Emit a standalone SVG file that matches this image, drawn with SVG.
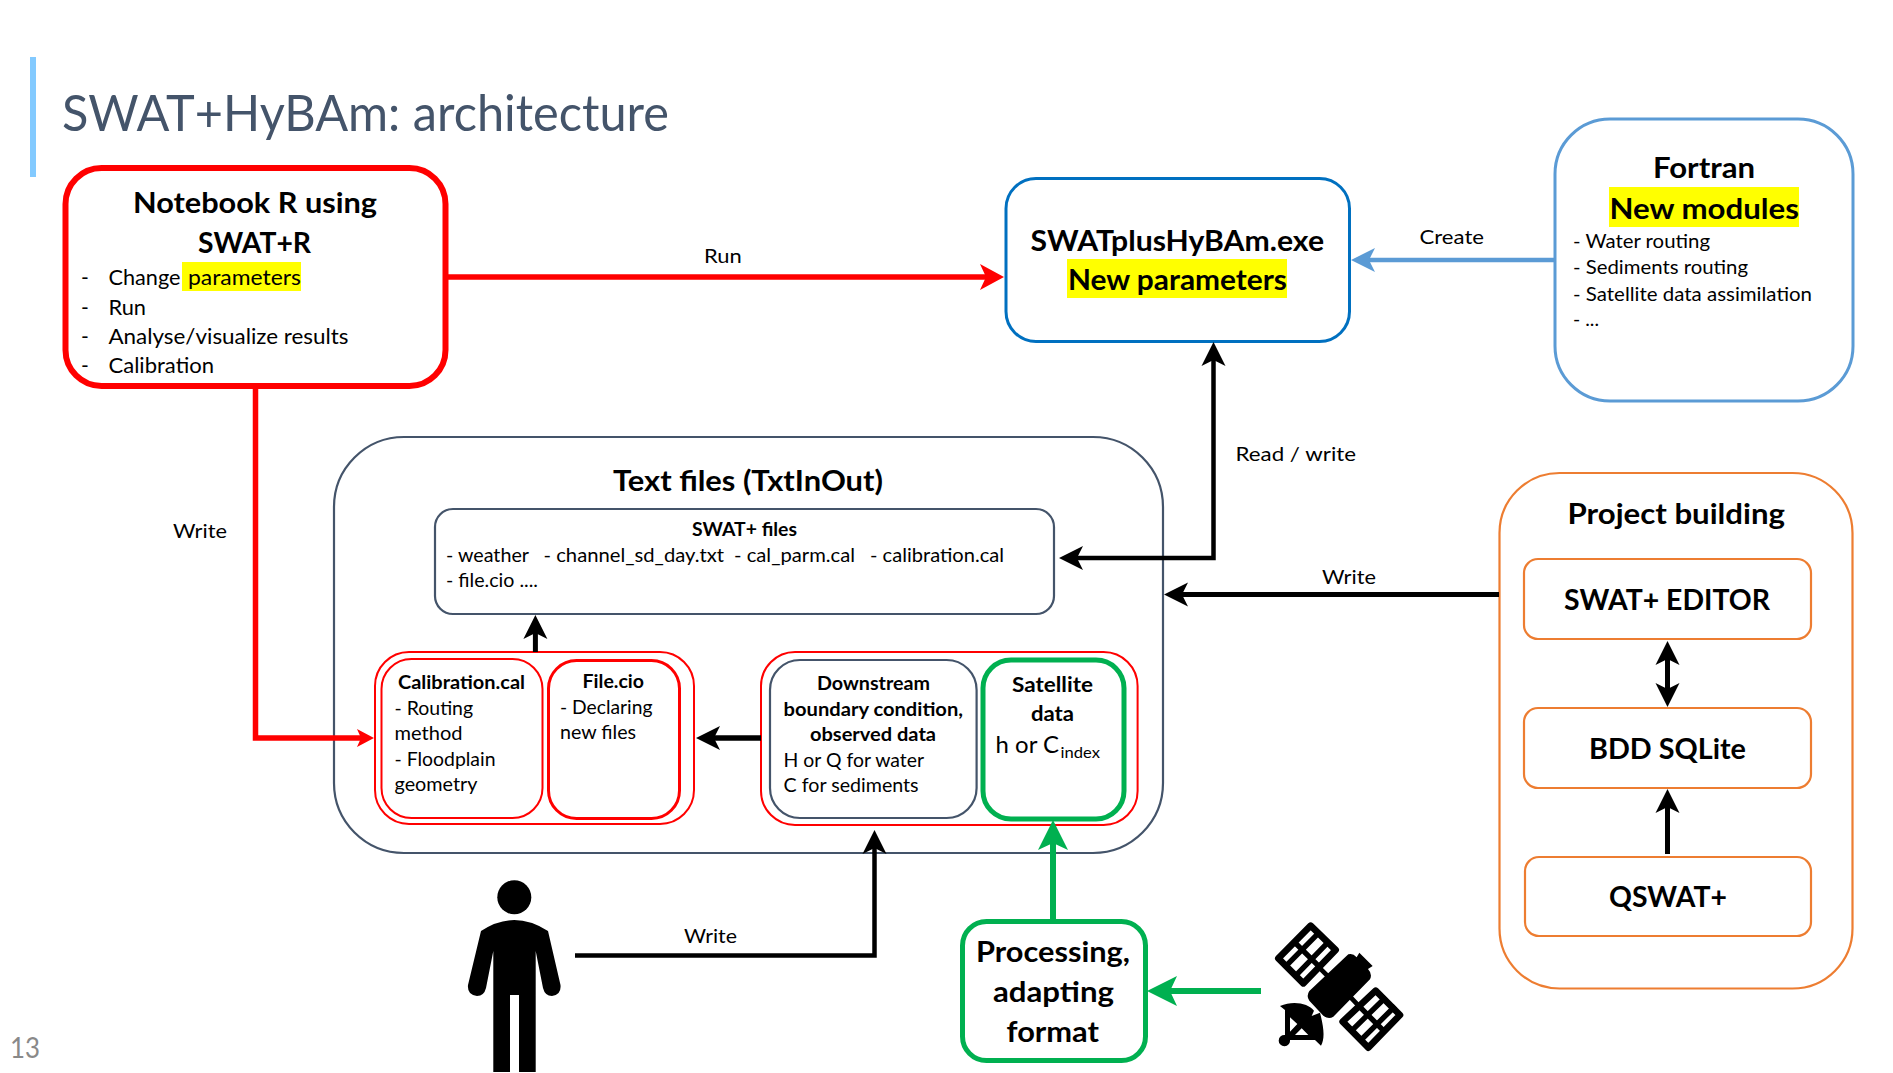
<svg xmlns="http://www.w3.org/2000/svg" width="1893" height="1073" viewBox="0 0 1893 1073">
<style>
text{font-family:Lato,"Liberation Sans",sans-serif;fill:#000}
.h{font-weight:700;font-size:29px}
.m{font-weight:700;font-size:19.5px}
.b{font-size:21px}
.s{font-size:19px}
.box{fill:#fff}
.hl{fill:#ff0}
.o{fill:#fff;stroke:#ed7d31;stroke-width:2.2}
.r2{fill:#fff;stroke:#f00;stroke-width:2}
.sl{fill:#fff;stroke:#44546a;stroke-width:2.2}
.c{fill:none;stroke:#000;stroke-width:5;stroke-linejoin:miter}
</style>
<defs>
<marker id="ak" markerUnits="userSpaceOnUse" markerWidth="26" markerHeight="26" refX="14" refY="13" orient="auto-start-reverse"><path d="M24,13L0,1L6,13L0,25z" fill="#000"/></marker>
<marker id="ar" markerUnits="userSpaceOnUse" markerWidth="26" markerHeight="26" refX="14" refY="13" orient="auto"><path d="M24,13L0,0L6,13L0,26z" fill="#f00"/></marker>
<marker id="ars" markerUnits="userSpaceOnUse" markerWidth="18" markerHeight="18" refX="10" refY="9" orient="auto"><path d="M17,9L0,0L4,9L0,18z" fill="#f00"/></marker>
<marker id="ab" markerUnits="userSpaceOnUse" markerWidth="26" markerHeight="26" refX="14" refY="13" orient="auto"><path d="M24,13L0,1L6,13L0,25z" fill="#5b9bd5"/></marker>
<marker id="ag" markerUnits="userSpaceOnUse" markerWidth="30" markerHeight="30" refX="18" refY="15" orient="auto"><path d="M30,15L0,0L7,15L0,30z" fill="#00b050"/></marker>
</defs>
<rect width="1893" height="1073" fill="#fff"/>
<rect x="30" y="57" width="6" height="120" fill="#83caff"/>
<text x="62" y="131" font-size="50" style="fill:#44546a" textLength="607" lengthAdjust="spacingAndGlyphs">SWAT+HyBAm: architecture</text>
<text x="10" y="1058" font-size="29" style="fill:#898989" textLength="30" lengthAdjust="spacingAndGlyphs">13</text>

<g id="textfiles">
<rect class="sl" x="334" y="437" width="829" height="416" rx="70"/>
<text class="h" x="613" y="491" textLength="270" lengthAdjust="spacingAndGlyphs">Text files (TxtInOut)</text>
</g>
<g id="swatfiles">
<rect class="sl" x="435" y="509" width="619" height="105" rx="18"/>
<text class="m" x="692" y="536" textLength="105" lengthAdjust="spacingAndGlyphs">SWAT+ files</text>
<text class="s" x="446" y="562" textLength="83" lengthAdjust="spacingAndGlyphs">- weather</text>
<text class="s" x="543.5" y="562" textLength="180.6" lengthAdjust="spacingAndGlyphs">- channel_sd_day.txt</text>
<text class="s" x="734" y="562" textLength="121" lengthAdjust="spacingAndGlyphs">- cal_parm.cal</text>
<text class="s" x="870" y="562" textLength="134" lengthAdjust="spacingAndGlyphs">- calibration.cal</text>
<text class="s" x="446" y="587" textLength="92" lengthAdjust="spacingAndGlyphs">- file.cio ....</text>
</g>
<g id="group-left">
<rect class="r2" x="375" y="652" width="319" height="172" rx="34"/>
</g>
<g id="calibration">
<rect class="r2" x="381.5" y="659" width="161" height="159" rx="30"/>
<text class="m" x="398" y="689" textLength="127" lengthAdjust="spacingAndGlyphs">Calibration.cal</text>
<text class="s" x="394.5" y="715" textLength="78.6" lengthAdjust="spacingAndGlyphs">- Routing</text>
<text class="s" x="394.5" y="740" textLength="68" lengthAdjust="spacingAndGlyphs">method</text>
<text class="s" x="394.5" y="766" textLength="101" lengthAdjust="spacingAndGlyphs">- Floodplain</text>
<text class="s" x="394.5" y="791" textLength="83" lengthAdjust="spacingAndGlyphs">geometry</text>
</g>
<g id="filecio">
<rect class="box" x="548.5" y="660.5" width="131" height="158" rx="28" style="stroke:#f00;stroke-width:3"/>
<text class="m" x="582.6" y="688" textLength="61.4" lengthAdjust="spacingAndGlyphs">File.cio</text>
<text class="s" x="560" y="714" textLength="92.5" lengthAdjust="spacingAndGlyphs">- Declaring</text>
<text class="s" x="560" y="739" textLength="76" lengthAdjust="spacingAndGlyphs">new files</text>
</g>
<g id="group-right">
<rect class="r2" x="761" y="652" width="376.6" height="173" rx="34"/>
</g>
<g id="downstream">
<rect class="sl" x="770" y="660" width="206.6" height="158" rx="30"/>
<text class="m" x="817" y="690" textLength="113" lengthAdjust="spacingAndGlyphs">Downstream</text>
<text class="m" x="783.6" y="716" textLength="179.4" lengthAdjust="spacingAndGlyphs">boundary condition,</text>
<text class="m" x="810" y="741" textLength="126" lengthAdjust="spacingAndGlyphs">observed data</text>
<text class="s" x="783.6" y="767" textLength="140.4" lengthAdjust="spacingAndGlyphs">H or Q for water</text>
<text class="s" x="783.6" y="792" textLength="135" lengthAdjust="spacingAndGlyphs">C for sediments</text>
</g>
<g id="satellite-data">
<rect class="box" x="983" y="660" width="141" height="159" rx="28" style="stroke:#00b050;stroke-width:5"/>
<text x="1012" y="692" font-size="21.5" font-weight="700" textLength="81" lengthAdjust="spacingAndGlyphs">Satellite</text>
<text x="1031" y="721" font-size="21.5" font-weight="700" textLength="43" lengthAdjust="spacingAndGlyphs">data</text>
<text x="995.6" y="753" font-size="24" textLength="63.4" lengthAdjust="spacingAndGlyphs">h or C</text>
<text x="1060.6" y="758" font-size="16" textLength="39.4" lengthAdjust="spacingAndGlyphs">index</text>
</g>
<g id="notebook">
<rect class="box" x="65.5" y="168" width="380" height="218" rx="36" style="stroke:#f00;stroke-width:6"/>
<text class="h" x="133" y="213" textLength="244" lengthAdjust="spacingAndGlyphs">Notebook R using</text>
<text class="h" x="198" y="253" textLength="113" lengthAdjust="spacingAndGlyphs">SWAT+R</text>
<rect class="hl" x="182" y="262" width="119" height="29"/>
<text class="b" x="81" y="285">-</text>
<text class="b" x="108.5" y="285" textLength="72" lengthAdjust="spacingAndGlyphs">Change</text>
<text class="b" x="188" y="285" textLength="113" lengthAdjust="spacingAndGlyphs">parameters</text>
<text class="b" x="81" y="315">-</text>
<text class="b" x="108.5" y="315" textLength="37.5" lengthAdjust="spacingAndGlyphs">Run</text>
<text class="b" x="81" y="344">-</text>
<text class="b" x="108.5" y="344" textLength="240" lengthAdjust="spacingAndGlyphs">Analyse/visualize results</text>
<text class="b" x="81" y="373">-</text>
<text class="b" x="108.5" y="373" textLength="105.5" lengthAdjust="spacingAndGlyphs">Calibration</text>
</g>
<g id="exe">
<rect class="box" x="1006" y="178.5" width="343.5" height="163" rx="30" style="stroke:#0070c0;stroke-width:3"/>
<text class="h" x="1030.5" y="250.5" textLength="293.5" lengthAdjust="spacingAndGlyphs">SWATplusHyBAm.exe</text>
<rect class="hl" x="1067" y="259" width="220" height="39"/>
<text class="h" x="1068" y="290" textLength="219" lengthAdjust="spacingAndGlyphs">New parameters</text>
</g>
<g id="fortran">
<rect class="box" x="1555" y="119" width="298" height="282" rx="55" style="stroke:#5b9bd5;stroke-width:3"/>
<text class="h" x="1653" y="178" textLength="102" lengthAdjust="spacingAndGlyphs">Fortran</text>
<rect class="hl" x="1609" y="187" width="190" height="40"/>
<text class="h" x="1609.5" y="219" textLength="189.5" lengthAdjust="spacingAndGlyphs">New modules</text>
<text class="s" x="1573" y="248" textLength="137" lengthAdjust="spacingAndGlyphs">- Water routing</text>
<text class="s" x="1573" y="274" textLength="175" lengthAdjust="spacingAndGlyphs">- Sediments routing</text>
<text class="s" x="1573" y="301" textLength="239" lengthAdjust="spacingAndGlyphs">- Satellite data assimilation</text>
<text class="s" x="1573" y="326" textLength="26" lengthAdjust="spacingAndGlyphs">- ...</text>
</g>
<g id="project">
<rect class="o" x="1499.5" y="473" width="353" height="515.5" rx="60"/>
<text class="h" x="1567.5" y="523.5" textLength="217.5" lengthAdjust="spacingAndGlyphs">Project building</text>
</g>
<g id="editor">
<rect class="o" x="1524" y="559" width="287" height="80" rx="14"/>
<text class="h" x="1564" y="610" textLength="206" lengthAdjust="spacingAndGlyphs">SWAT+ EDITOR</text>
</g>
<g id="sqlite">
<rect class="o" x="1524" y="708" width="287" height="80" rx="14"/>
<text class="h" x="1589" y="759" textLength="157" lengthAdjust="spacingAndGlyphs">BDD SQLite</text>
</g>
<g id="qswat">
<rect class="o" x="1525" y="857" width="286" height="79" rx="14"/>
<text class="h" x="1609" y="907" textLength="118" lengthAdjust="spacingAndGlyphs">QSWAT+</text>
</g>
<g id="processing">
<rect class="box" x="962.5" y="921.5" width="183" height="139" rx="24" style="stroke:#00b050;stroke-width:5"/>
<text class="h" x="976" y="961.7" textLength="154" lengthAdjust="spacingAndGlyphs">Processing,</text>
<text class="h" x="993" y="1002" textLength="121" lengthAdjust="spacingAndGlyphs">adapting</text>
<text class="h" x="1006.5" y="1042" textLength="92.5" lengthAdjust="spacingAndGlyphs">format</text>
</g>
<g id="person">
<circle cx="514.3" cy="897.3" r="17"/>
<path d="M481,931Q514,909 548,931L560.5,985Q561.5,995 552,996Q545,996 543,988L535.7,951V1072H519V995H510V1072H493.3V951L486,988Q484,996 477,996Q467,995 468,985z"/>
</g>
<g id="satellite" transform="translate(1240 900) scale(.3333)">
<g fill="#fff" stroke="#000" stroke-width="20" stroke-linejoin="round">
<path d="M212,77L115,175L190,250L287,150z"/>
<path d="M407,272L308,365L385,443L480,345z"/>
<g stroke-width="16" fill="none">
<path d="M240,95L133,203M269,122L162,232M158,121L243,205M352,313L437,399"/>
<path d="M438,291L336,391M466,318L363,420"/>
</g>
</g>
<path d="M325,163Q338,158 350,172L358,158L398,198L384,207Q398,222 390,238L280,350Q266,360 250,347L208,302Q198,288 208,273z"/>
<path d="M240,205L272,237M330,290L352,313" stroke="#000" stroke-width="14"/>
<path fill-rule="evenodd" d="M120,318C160,300 205,310 222,332L215,348L240,338C252,385 255,415 243,437L225,420H150A17,17 0 1 1 135,405V330zM150,352V395L172,372zM165,405H205L185,385z"/>
</g>
<g id="connectors">
<path d="M448,277H994" class="c" style="stroke:#f00;stroke-width:5.5" marker-end="url(#ar)"/>
<path d="M255.5,389V738H367" class="c" style="stroke:#f00;stroke-width:5.5" marker-end="url(#ars)"/>
<path d="M1555,260H1361" class="c" style="stroke:#5b9bd5;stroke-width:4.5" marker-end="url(#ab)"/>
<path d="M1069,558H1213.5V352" class="c" style="stroke-width:4.5" marker-start="url(#ak)" marker-end="url(#ak)"/>
<path d="M1499,594.6H1174" class="c" marker-end="url(#ak)"/>
<path d="M575,955.5H874.5V840" class="c" style="stroke-width:4.5" marker-end="url(#ak)"/>
<path d="M535.4,652V625" class="c" marker-end="url(#ak)"/>
<path d="M761,738H706" class="c" style="stroke-width:5.5" marker-end="url(#ak)"/>
<path d="M1053,919V832" class="c" style="stroke:#00b050;stroke-width:6" marker-end="url(#ag)"/>
<path d="M1261,991H1159" class="c" style="stroke:#00b050;stroke-width:6" marker-end="url(#ag)"/>
<path d="M1667.5,651V697" class="c" marker-start="url(#ak)" marker-end="url(#ak)"/>
<path d="M1667.5,854V799" class="c" marker-end="url(#ak)"/>
</g>
<g id="labels">
<text class="s" x="704" y="262.7" textLength="37.7" lengthAdjust="spacingAndGlyphs">Run</text>
<text class="s" x="173" y="538" textLength="54" lengthAdjust="spacingAndGlyphs">Write</text>
<text class="s" x="1419.5" y="243.5" textLength="64.5" lengthAdjust="spacingAndGlyphs">Create</text>
<text class="s" x="1235.5" y="460.5" textLength="120.5" lengthAdjust="spacingAndGlyphs">Read / write</text>
<text class="s" x="1322" y="583.5" textLength="54" lengthAdjust="spacingAndGlyphs">Write</text>
<text class="s" x="684" y="943" textLength="53" lengthAdjust="spacingAndGlyphs">Write</text>
</g>
</svg>
